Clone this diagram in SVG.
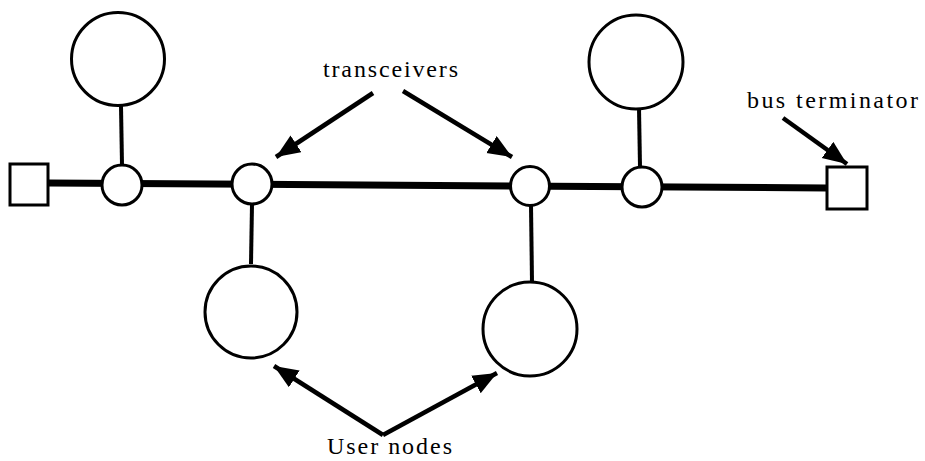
<svg xmlns="http://www.w3.org/2000/svg" width="925" height="461" viewBox="0 0 925 461">
  <style>
    .node { fill: #fff; stroke: #000; stroke-width: 3; }
    .bus { stroke: #000; stroke-width: 7; fill: none; }
    .stem { stroke: #000; stroke-width: 4; fill: none; }
    .pointer { stroke: #000; stroke-width: 4.5; fill: none; marker-end: url(#head); }
    .label { font-family: "Liberation Serif", "DejaVu Serif", serif; font-size: 24px; fill: #000; }
  </style>
  <defs>
    <marker id="head" markerUnits="userSpaceOnUse" markerWidth="26" markerHeight="22" refX="24" refY="10" orient="auto">
      <path d="M0,0 L24,10 L0,20 Z" fill="#000"/>
    </marker>
  </defs>
  <rect width="925" height="461" fill="#fff"/>

  <!-- bus cable, stems and pointer arrows -->
  <g id="connectors">
    <line class="bus" x1="48" y1="183" x2="827" y2="188"/>
    <line class="stem" x1="121" y1="106" x2="122" y2="165"/>
    <line class="stem" x1="252" y1="204" x2="251" y2="264"/>
    <line class="stem" x1="531" y1="205" x2="532" y2="282"/>
    <line class="stem" x1="639" y1="108" x2="640" y2="167"/>
    <line class="pointer" x1="373" y1="93" x2="276" y2="157"/>
    <line class="pointer" x1="403" y1="91" x2="512" y2="157"/>
    <line class="pointer" x1="783" y1="118" x2="847" y2="164"/>
    <line class="pointer" x1="383" y1="435" x2="274" y2="366"/>
    <line class="pointer" x1="383" y1="435" x2="497" y2="373"/>
  </g>

  <!-- bus terminators -->
  <g id="terminator-left"><rect class="node" x="10" y="164" width="38" height="41"/></g>
  <g id="terminator-right"><rect class="node" x="827" y="167" width="40" height="42"/></g>

  <!-- transceivers on the bus -->
  <g id="transceiver-1"><circle class="node" cx="122" cy="185" r="20"/></g>
  <g id="transceiver-2"><circle class="node" cx="252" cy="184" r="20"/></g>
  <g id="transceiver-3"><circle class="node" cx="530" cy="186" r="19.5"/></g>
  <g id="transceiver-4"><circle class="node" cx="642" cy="187" r="20"/></g>

  <!-- user nodes -->
  <g id="user-node-1"><circle class="node" cx="118" cy="59" r="46.5"/></g>
  <g id="user-node-2"><circle class="node" cx="251" cy="312" r="46"/></g>
  <g id="user-node-3"><circle class="node" cx="530" cy="329" r="47"/></g>
  <g id="user-node-4"><circle class="node" cx="636" cy="62" r="47"/></g>

  <!-- labels -->
  <g id="label-transceivers"><text class="label" x="323" y="77" textLength="135" lengthAdjust="spacing">transceivers</text></g>
  <g id="label-bus-terminator"><text class="label" x="747" y="108" textLength="171" lengthAdjust="spacing">bus terminator</text></g>
  <g id="label-user-nodes"><text class="label" x="327" y="454" textLength="125" lengthAdjust="spacing">User nodes</text></g>
</svg>
